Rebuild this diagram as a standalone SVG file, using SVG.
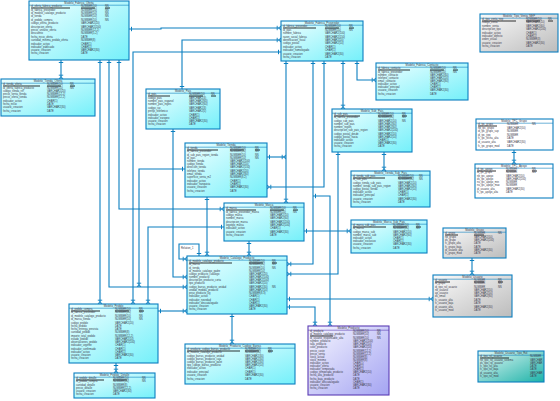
<svg xmlns="http://www.w3.org/2000/svg" width="560" height="401" viewBox="0 0 560 401">
<defs>
<linearGradient id="gc" x1="0" y1="0" x2="1" y2="1"><stop offset="0" stop-color="#f0ffff"/><stop offset="1" stop-color="#74f0fa"/></linearGradient>
<linearGradient id="gg" x1="0" y1="0" x2="1" y2="1"><stop offset="0" stop-color="#fafafa"/><stop offset="1" stop-color="#bcbcbc"/></linearGradient>
<linearGradient id="gp" x1="0" y1="0" x2="1" y2="1"><stop offset="0" stop-color="#f6f6ff"/><stop offset="1" stop-color="#a4a4f2"/></linearGradient>
<linearGradient id="gt" x1="0" y1="0" x2="1" y2="1"><stop offset="0" stop-color="#e6f8f5"/><stop offset="1" stop-color="#1cb2a8"/></linearGradient>
<marker id="one" markerUnits="userSpaceOnUse" markerWidth="6" markerHeight="6" refX="5" refY="3" orient="auto-start-reverse"><path d="M2.5,0.8V5.2" stroke="#0b7fc0" stroke-width="1" fill="none"/></marker>
<marker id="many" markerUnits="userSpaceOnUse" markerWidth="6" markerHeight="6" refX="5" refY="3" orient="auto"><path d="M1.2,0.8V5.2M2.5,3L5,1M2.5,3L5,5" stroke="#0b7fc0" stroke-width="0.9" fill="none"/></marker>
<style>
.b{stroke:#0b7fc0;stroke-width:1.1}
.c{fill:url(#gc)}.g{fill:url(#gg)}.p{fill:url(#gp);stroke:#5b3cb4}.t{fill:url(#gt)}.w{fill:#fff}
.s{stroke:#0b7fc0;stroke-width:0.6}
.sp{stroke:#5b3cb4;stroke-width:0.6}
text{font-family:"Liberation Sans",Arial,sans-serif;fill:#3a3a4a}
.h{font-size:2.8px;text-anchor:middle}
.r{font-size:2.6px}
.u{stroke:#000;stroke-width:0.8}
.cn path{fill:none;stroke:#0b7fc0;stroke-width:1.1;marker-start:url(#one);marker-end:url(#many)}
</style>
</defs>

<g class="cn" id="connectors">
<path d="M129,29H161V28H281"/>
<path d="M182,89V40H281"/>
<path d="M281,52H133V304"/>
<path d="M61,60V79"/>
<path d="M100,60V304"/>
<path d="M109,60V287H187"/>
<path d="M119,60V209H224"/>
<path d="M185,169H139V287"/>
<path d="M224,227H148V304"/>
<path d="M173,129V277H187"/>
<path d="M207,197V256"/>
<path d="M249,241V256"/>
<path d="M199,256V244H179V259H187"/>
<path d="M158,311H187"/>
<path d="M116,363V373"/>
<path d="M232,314V344"/>
<path d="M286,61V203"/>
<path d="M267,157H286"/>
<path d="M313,61V264H287"/>
<path d="M324,61V187H267"/>
<path d="M343,61V109"/>
<path d="M357,61V80H376"/>
<path d="M338,152V274H287"/>
<path d="M384,152V171"/>
<path d="M304,231H351"/>
<path d="M287,299H433"/>
<path d="M287,307H315V326"/>
<path d="M313,196H330V326"/>
<path d="M514,150V164"/>
<path d="M472,258V275"/>
</g>
<text class="r" x="181" y="249">Relation_1</text>

<g id="t1">
<rect class="b c" x="29" y="1" width="100" height="59"/><line class="s" x1="29" y1="5.2" x2="129" y2="5.2"/>
<text class="h" x="79" y="4.1">Modelo_Fabrica_Oferta</text>
<text class="r" x="31" y="7.3">id_oferta_fabrica_producto</text><text class="r" x="81" y="7.3">NUMBER(10)</text><text class="r" x="105" y="7.3">NN</text>
<line class="u" x1="31" y1="8" x2="70" y2="8"/><line class="u" x1="81" y1="8" x2="95" y2="8"/><line class="u" x1="105" y1="8" x2="110" y2="8"/>
<text class="r" x="31" y="11">id_fabrica_proveedor</text><text class="r" x="81" y="11">NUMBER(10)</text><text class="r" x="105" y="11">NN</text>
<text class="r" x="31" y="14.1">id_modelo_catalogo_producto</text><text class="r" x="81" y="14.1">NUMBER(10)</text><text class="r" x="105" y="14.1">NN</text>
<text class="r" x="31" y="17.2">id_tienda</text><text class="r" x="81" y="17.2">NUMBER(10)</text><text class="r" x="105" y="17.2">NN</text>
<text class="r" x="31" y="21">id_pedido_compra</text><text class="r" x="81" y="21">NUMBER(10)</text><text class="r" x="105" y="21">NN</text>
<text class="r" x="31" y="24.1">codigo_oferta_producto</text><text class="r" x="81" y="24.1">VARCHAR2(20)</text>
<text class="r" x="31" y="28">descripcion_oferta</text><text class="r" x="81" y="28">VARCHAR2(200)</text>
<text class="r" x="31" y="31.1">precio_unitario_oferta</text><text class="r" x="81" y="31.1">NUMBER(12,2)</text>
<text class="r" x="31" y="34.2">descuento</text><text class="r" x="81" y="34.2">NUMBER(5,2)</text>
<text class="r" x="31" y="38">fecha_inicio_oferta</text><text class="r" x="81" y="38">DATE</text>
<text class="r" x="31" y="41.1">cantidad_minima_pedido_oferta</text><text class="r" x="81" y="41.1">NUMBER(8)</text>
<text class="r" x="31" y="45">indicador_activo</text><text class="r" x="81" y="45">CHAR(1)</text>
<text class="r" x="31" y="48.1">indicador_publicado</text><text class="r" x="81" y="48.1">CHAR(1)</text>
<text class="r" x="31" y="51.2">usuario_creacion</text><text class="r" x="81" y="51.2">VARCHAR2(30)</text>
<text class="r" x="31" y="54.3">fecha_creacion</text><text class="r" x="81" y="54.3">DATE</text>
</g>

<g id="t2">
<rect class="b c" x="1" y="79" width="94" height="37"/><line class="s" x1="1" y1="83.2" x2="95" y2="83.2"/>
<text class="h" x="48" y="82.1">Modelo_Tienda_Oferta</text>
<text class="r" x="3" y="85.3">id_tienda_oferta</text><text class="r" x="47" y="85.3">NUMBER(10)</text><text class="r" x="70" y="85.3">NN</text>
<line class="u" x1="3" y1="86" x2="40" y2="86"/><line class="u" x1="47" y1="86" x2="61" y2="86"/><line class="u" x1="70" y1="86" x2="75" y2="86"/>
<text class="r" x="3" y="89">id_oferta_fabrica_producto</text><text class="r" x="47" y="89">NUMBER(10)</text><text class="r" x="70" y="89">NN</text>
<text class="r" x="3" y="92.1">codigo_tienda_ref</text><text class="r" x="47" y="92.1">VARCHAR2(20)</text>
<text class="r" x="3" y="95.2">precio_venta_tienda</text><text class="r" x="47" y="95.2">NUMBER(12,2)</text>
<text class="r" x="3" y="98.3">precio_oferta_tienda</text><text class="r" x="47" y="98.3">NUMBER(12,2)</text>
<text class="r" x="3" y="101.9">indicador_activo</text><text class="r" x="47" y="101.9">CHAR(1)</text>
<text class="r" x="3" y="105">fecha_inicio</text><text class="r" x="47" y="105">DATE</text>
<text class="r" x="3" y="108.1">usuario_creacion</text><text class="r" x="47" y="108.1">VARCHAR2(30)</text>
<text class="r" x="3" y="111.7">fecha_creacion</text><text class="r" x="47" y="111.7">DATE</text>
</g>

<g id="t3">
<rect class="b c" x="146" y="89" width="74" height="40"/><line class="s" x1="146" y1="93.2" x2="220" y2="93.2"/>
<text class="h" x="183" y="92.1">Modelo_Pais</text>
<text class="r" x="148" y="95.3">id_pais</text><text class="r" x="189" y="95.3">NUMBER(10)</text><text class="r" x="211" y="95.3">NN</text>
<line class="u" x1="148" y1="96" x2="170" y2="96"/><line class="u" x1="189" y1="96" x2="203" y2="96"/><line class="u" x1="211" y1="96" x2="216" y2="96"/>
<text class="r" x="148" y="99">codigo_pais</text><text class="r" x="189" y="99">VARCHAR2(3)</text>
<text class="r" x="148" y="102.1">nombre_pais_espanol</text><text class="r" x="189" y="102.1">VARCHAR2(60)</text>
<text class="r" x="148" y="105.2">nombre_pais_ingles</text><text class="r" x="189" y="105.2">VARCHAR2(60)</text>
<text class="r" x="148" y="108.8">codigo_iso</text><text class="r" x="189" y="108.8">VARCHAR2(3)</text>
<text class="r" x="148" y="111.9">prefijo_telefonico</text><text class="r" x="189" y="111.9">VARCHAR2(5)</text>
<text class="r" x="148" y="115.5">indicador_activo</text><text class="r" x="189" y="115.5">CHAR(1)</text>
<text class="r" x="148" y="118.6">indicador_europeo</text><text class="r" x="189" y="118.6">CHAR(1)</text>
<text class="r" x="148" y="121.7">usuario_creacion</text><text class="r" x="189" y="121.7">VARCHAR2(30)</text>
<text class="r" x="148" y="125">fecha_creacion</text><text class="r" x="189" y="125">DATE</text>
</g>

<g id="t4">
<rect class="b c" x="281" y="21" width="82" height="40"/><line class="s" x1="281" y1="25.2" x2="363" y2="25.2"/>
<text class="h" x="322" y="24.1">Modelo_Fabrica_Proveedor</text>
<text class="r" x="283" y="27.3">id_fabrica_proveedor</text><text class="r" x="325" y="27.3">NUMBER(10)</text><text class="r" x="349" y="27.3">NN</text>
<line class="u" x1="283" y1="28" x2="316" y2="28"/><line class="u" x1="325" y1="28" x2="339" y2="28"/><line class="u" x1="349" y1="28" x2="354" y2="28"/>
<text class="r" x="283" y="31">id_pais</text><text class="r" x="325" y="31">NUMBER(10)</text><text class="r" x="349" y="31">NN</text>
<text class="r" x="283" y="34.1">nombre_fabrica</text><text class="r" x="325" y="34.1">VARCHAR2(100)</text>
<text class="r" x="283" y="38">razon_social_fabrica</text><text class="r" x="325" y="38">VARCHAR2(150)</text>
<text class="r" x="283" y="41.1">identificacion_fiscal</text><text class="r" x="325" y="41.1">VARCHAR2(20)</text>
<text class="r" x="283" y="44.2">codigo_postal</text><text class="r" x="325" y="44.2">VARCHAR2(10)</text>
<text class="r" x="283" y="48">indicador_activo</text><text class="r" x="325" y="48">CHAR(1)</text>
<text class="r" x="283" y="51.1">indicador_homologado</text><text class="r" x="325" y="51.1">CHAR(1)</text>
<text class="r" x="283" y="55">usuario_creacion</text><text class="r" x="325" y="55">VARCHAR2(30)</text>
<text class="r" x="283" y="58.1">fecha_creacion</text><text class="r" x="325" y="58.1">DATE</text>
</g>

<g id="t5">
<rect class="b c" x="376" y="63" width="92" height="37"/><line class="s" x1="376" y1="67.2" x2="468" y2="67.2"/>
<text class="h" x="422" y="66.1">Modelo_Fabrica_Contacto</text>
<text class="r" x="378" y="69.3">id_fabrica_contacto</text><text class="r" x="430" y="69.3">NUMBER(10)</text><text class="r" x="453" y="69.3">NN</text>
<line class="u" x1="378" y1="70" x2="410" y2="70"/><line class="u" x1="430" y1="70" x2="444" y2="70"/><line class="u" x1="453" y1="70" x2="458" y2="70"/>
<text class="r" x="378" y="72.8">id_fabrica_proveedor</text><text class="r" x="430" y="72.8">NUMBER(10)</text><text class="r" x="453" y="72.8">NN</text>
<text class="r" x="378" y="75.8">nombre_contacto</text><text class="r" x="430" y="75.8">VARCHAR2(60)</text>
<text class="r" x="378" y="78.8">telefono_contacto</text><text class="r" x="430" y="78.8">VARCHAR2(20)</text>
<text class="r" x="378" y="81.8">email_contacto</text><text class="r" x="430" y="81.8">VARCHAR2(80)</text>
<text class="r" x="378" y="85.4">indicador_activo</text><text class="r" x="430" y="85.4">CHAR(1)</text>
<text class="r" x="378" y="88.4">indicador_principal</text><text class="r" x="430" y="88.4">CHAR(1)</text>
<text class="r" x="378" y="91.4">usuario_creacion</text><text class="r" x="430" y="91.4">VARCHAR2(30)</text>
<text class="r" x="378" y="95">fecha_creacion</text><text class="r" x="430" y="95">DATE</text>
</g>

<g id="t6">
<rect class="b c" x="332" y="109" width="80" height="43"/><line class="s" x1="332" y1="113.2" x2="412" y2="113.2"/>
<text class="h" x="372" y="112.1">Modelo_Sub_Pais</text>
<text class="r" x="334" y="115.3">id_sub_pais</text><text class="r" x="378" y="115.3">NUMBER(10)</text><text class="r" x="402" y="115.3">NN</text>
<line class="u" x1="334" y1="116" x2="360" y2="116"/><line class="u" x1="378" y1="116" x2="392" y2="116"/><line class="u" x1="402" y1="116" x2="407" y2="116"/>
<text class="r" x="334" y="118.4">id_fabrica_proveedor</text><text class="r" x="378" y="118.4">NUMBER(10)</text><text class="r" x="402" y="118.4">NN</text>
<text class="r" x="334" y="122">codigo_sub_pais</text><text class="r" x="378" y="122">VARCHAR2(10)</text><text class="r" x="402" y="122">NN</text>
<text class="r" x="334" y="125.1">nombre_sub_pais</text><text class="r" x="378" y="125.1">VARCHAR2(60)</text>
<text class="r" x="334" y="128.2">nombre_region</text><text class="r" x="378" y="128.2">VARCHAR2(60)</text>
<text class="r" x="334" y="131.3">descripcion_sub_pais_region</text><text class="r" x="378" y="131.3">VARCHAR2(200)</text>
<text class="r" x="334" y="135">codigo_postal_desde</text><text class="r" x="378" y="135">VARCHAR2(10)</text>
<text class="r" x="334" y="138.1">codigo_postal_hasta</text><text class="r" x="378" y="138.1">VARCHAR2(10)</text>
<text class="r" x="334" y="141.2">indicador_activo</text><text class="r" x="378" y="141.2">CHAR(1)</text>
<text class="r" x="334" y="144.3">usuario_creacion</text><text class="r" x="378" y="144.3">VARCHAR2(30)</text>
<text class="r" x="334" y="147.4">fecha_creacion</text><text class="r" x="378" y="147.4">DATE</text>
</g>

<g id="t7">
<rect class="b g" x="480" y="14" width="78" height="38"/><line class="s" x1="480" y1="18.2" x2="558" y2="18.2"/>
<text class="h" x="519" y="17.1">Modelo_Tipo_Venta_NEP</text>
<text class="r" x="482" y="20.3">id_tipo_venta_nep</text><text class="r" x="526" y="20.3">NUMBER(10)</text><text class="r" x="548" y="20.3">NN</text>
<line class="u" x1="482" y1="21" x2="516" y2="21"/><line class="u" x1="526" y1="21" x2="540" y2="21"/><line class="u" x1="548" y1="21" x2="553" y2="21"/>
<text class="r" x="482" y="23.4">codigo_venta</text><text class="r" x="526" y="23.4">VARCHAR2(10)</text>
<text class="r" x="482" y="27">nombre_venta</text><text class="r" x="526" y="27">VARCHAR2(60)</text>
<text class="r" x="482" y="30.1">descripcion_tipo</text><text class="r" x="526" y="30.1">VARCHAR2(200)</text>
<text class="r" x="482" y="34">indicador_activo</text><text class="r" x="526" y="34">CHAR(1)</text>
<text class="r" x="482" y="37.1">indicador_defecto</text><text class="r" x="526" y="37.1">CHAR(1)</text>
<text class="r" x="482" y="40.2">orden_visual</text><text class="r" x="526" y="40.2">NUMBER(3)</text>
<text class="r" x="482" y="44">usuario_creacion</text><text class="r" x="526" y="44">VARCHAR2(30)</text>
<text class="r" x="482" y="47.1">fecha_creacion</text><text class="r" x="526" y="47.1">DATE</text>
</g>

<g id="t8">
<rect class="b w" x="476" y="119" width="77" height="31"/><line class="s" x1="476" y1="123.2" x2="553" y2="123.2"/>
<text class="h" x="514" y="122.1">Modelo_TPC_Grupo</text>
<text class="r" x="478" y="125.3">id_tpc_grupo</text><text class="r" x="507" y="125.3">NUMBER</text><text class="r" x="532" y="125.3">NN</text>
<line class="u" x1="478" y1="126" x2="497" y2="126"/>
<text class="r" x="478" y="128.5">nb_tpc_grupo</text><text class="r" x="507" y="128.5">VARCHAR2(50)</text>
<text class="r" x="478" y="132">id_tpc_grupo_sup</text><text class="r" x="507" y="132">NUMBER</text>
<text class="r" x="478" y="135.5">id_tpc_tipo</text><text class="r" x="507" y="135.5">NUMBER</text>
<text class="r" x="478" y="139">fc_tpc_fecha_alta</text><text class="r" x="507" y="139">DATE</text>
<text class="r" x="478" y="143">id_usuario_alta</text><text class="r" x="507" y="143">VARCHAR2(30)</text>
<text class="r" x="478" y="146.5">fc_tpc_grupo_mod</text><text class="r" x="507" y="146.5">DATE</text>
</g>

<g id="t9">
<rect class="b w" x="475" y="164" width="78" height="34"/><line class="s" x1="475" y1="168.2" x2="553" y2="168.2"/>
<text class="h" x="514" y="167.1">Modelo_TPC_Apoyo</text>
<text class="r" x="477" y="170.3">id_tpc_apoyo</text><text class="r" x="506" y="170.3">NUMBER</text><text class="r" x="532" y="170.3">NN</text>
<line class="u" x1="477" y1="171" x2="496" y2="171"/><line class="u" x1="506" y1="171" x2="516" y2="171"/><line class="u" x1="532" y1="171" x2="537" y2="171"/>
<text class="r" x="477" y="173.4">id_tpc_grupo</text><text class="r" x="506" y="173.4">NUMBER</text><text class="r" x="532" y="173.4">NN</text>
<text class="r" x="477" y="176.6">nb_tpc_apoyo</text><text class="r" x="506" y="176.6">VARCHAR2(50)</text>
<text class="r" x="477" y="180.2">ds_tpc_apoyo</text><text class="r" x="506" y="180.2">VARCHAR2(200)</text>
<text class="r" x="477" y="183.3">nu_tpc_apoyo_min</text><text class="r" x="506" y="183.3">NUMBER</text>
<text class="r" x="477" y="186.4">nu_tpc_apoyo_max</text><text class="r" x="506" y="186.4">NUMBER</text>
<text class="r" x="477" y="190">id_usuario_alta</text><text class="r" x="506" y="190">VARCHAR2(30)</text>
<text class="r" x="477" y="193.2">fc_tpc_apoyo_alta</text><text class="r" x="506" y="193.2">DATE</text>
</g>

<g id="t10">
<rect class="b g" x="443" y="228" width="63" height="30"/><line class="s" x1="443" y1="232.2" x2="506" y2="232.2"/>
<text class="h" x="474.5" y="231.1">Modelo_Grupo</text>
<text class="r" x="445" y="234.3">id_grupo</text><text class="r" x="474" y="234.3">NUMBER</text><text class="r" x="498" y="234.3">NN</text>
<line class="u" x1="445" y1="235" x2="458" y2="235"/><line class="u" x1="474" y1="235" x2="484" y2="235"/>
<text class="r" x="445" y="237.8">nb_grupo</text><text class="r" x="474" y="237.8">VARCHAR2(50)</text>
<text class="r" x="445" y="240.9">ds_grupo</text><text class="r" x="474" y="240.9">VARCHAR2(200)</text>
<text class="r" x="445" y="244.4">fc_grupo_alta</text><text class="r" x="474" y="244.4">DATE</text>
<text class="r" x="445" y="247.5">fc_grupo_baja</text><text class="r" x="474" y="247.5">DATE</text>
<text class="r" x="445" y="251">id_usuario_alta</text><text class="r" x="474" y="251">VARCHAR2(30)</text>
<text class="r" x="445" y="254.1">fc_grupo_mod</text><text class="r" x="474" y="254.1">DATE</text>
</g>

<g id="t11">
<rect class="b g" x="433" y="275" width="79" height="42"/><line class="s" x1="433" y1="279.2" x2="512" y2="279.2"/>
<text class="h" x="472.5" y="278.1">Modelo_Usuario</text>
<text class="r" x="435" y="281.3">id_usuario</text><text class="r" x="474" y="281.3">NUMBER</text><text class="r" x="498" y="281.3">NN</text>
<line class="u" x1="435" y1="282" x2="450" y2="282"/><line class="u" x1="474" y1="282" x2="484" y2="282"/><line class="u" x1="498" y1="282" x2="503" y2="282"/>
<text class="r" x="435" y="284.4">id_grupo</text><text class="r" x="474" y="284.4">NUMBER</text><text class="r" x="498" y="284.4">NN</text>
<text class="r" x="435" y="287.5">id_tipo_rol_usuario</text><text class="r" x="474" y="287.5">NUMBER</text><text class="r" x="498" y="287.5">NN</text>
<text class="r" x="435" y="291">nb_usuario</text><text class="r" x="474" y="291">VARCHAR2(50)</text>
<text class="r" x="435" y="294.1">ap_usuario</text><text class="r" x="474" y="294.1">VARCHAR2(50)</text>
<text class="r" x="435" y="297.2">ds_email</text><text class="r" x="474" y="297.2">VARCHAR2(80)</text>
<text class="r" x="435" y="301">fc_usuario_alta</text><text class="r" x="474" y="301">DATE</text>
<text class="r" x="435" y="304.1">fc_usuario_baja</text><text class="r" x="474" y="304.1">DATE</text>
<text class="r" x="435" y="307.8">id_usuario_alta</text><text class="r" x="474" y="307.8">VARCHAR2(30)</text>
<text class="r" x="435" y="311">fc_usuario_mod</text><text class="r" x="474" y="311">DATE</text>
</g>

<g id="t12">
<rect class="b t" x="478" y="351" width="66" height="31"/><line class="s" x1="478" y1="355.2" x2="544" y2="355.2"/>
<text class="h" x="511" y="354.1">Modelo_Usuario_Tipo_Rol</text>
<text class="r" x="480" y="357.3">id_tipo_rol_usuario</text><text class="r" x="530" y="357.3">NUMBER</text>
<line class="u" x1="480" y1="358" x2="509" y2="358"/>
<text class="r" x="480" y="360.8">nb_tipo_rol_usuario_sistema</text><text class="r" x="530" y="360.8">VARCHAR</text>
<text class="r" x="480" y="363.9">ds_tipo_rol_usuario</text><text class="r" x="530" y="363.9">VARCHAR</text>
<text class="r" x="480" y="367.3">fc_tipo_rol_alta</text><text class="r" x="530" y="367.3">DATE</text>
<text class="r" x="480" y="370.4">fc_tipo_rol_baja</text><text class="r" x="530" y="370.4">DATE</text>
<text class="r" x="480" y="374">id_usuario_alta</text><text class="r" x="530" y="374">VARCHAR</text>
<text class="r" x="480" y="377.1">fc_tipo_rol_mod</text><text class="r" x="530" y="377.1">DATE</text>
</g>

<g id="t13">
<rect class="b c" x="185" y="143" width="82" height="54"/><line class="s" x1="185" y1="147.2" x2="267" y2="147.2"/>
<text class="h" x="226" y="146.1">Modelo_Tienda</text>
<text class="r" x="187" y="149.3">id_tienda</text><text class="r" x="230" y="149.3">NUMBER(10)</text><text class="r" x="255" y="149.3">NN</text>
<line class="u" x1="187" y1="150" x2="218" y2="150"/><line class="u" x1="230" y1="150" x2="244" y2="150"/><line class="u" x1="255" y1="150" x2="260" y2="150"/>
<text class="r" x="187" y="152.4">id_fabrica_proveedor</text><text class="r" x="230" y="152.4">NUMBER(10)</text><text class="r" x="255" y="152.4">NN</text>
<text class="r" x="187" y="155.5">id_sub_pais_region_tienda</text><text class="r" x="230" y="155.5">NUMBER(10)</text><text class="r" x="255" y="155.5">NN</text>
<text class="r" x="187" y="158.6">id_pais</text><text class="r" x="230" y="158.6">NUMBER(10)</text><text class="r" x="255" y="158.6">NN</text>
<text class="r" x="187" y="162.2">nombre_tienda</text><text class="r" x="230" y="162.2">VARCHAR2(100)</text>
<text class="r" x="187" y="165.3">codigo_tienda</text><text class="r" x="230" y="165.3">VARCHAR2(20)</text>
<text class="r" x="187" y="168.4">direccion_tienda</text><text class="r" x="230" y="168.4">VARCHAR2(150)</text>
<text class="r" x="187" y="172">telefono_tienda</text><text class="r" x="230" y="172">VARCHAR2(20)</text>
<text class="r" x="187" y="175.1">email_tienda</text><text class="r" x="230" y="175.1">VARCHAR2(80)</text>
<text class="r" x="187" y="178.2">superficie_venta_m2</text><text class="r" x="230" y="178.2">NUMBER(8,2)</text>
<text class="r" x="187" y="182">indicador_activo</text><text class="r" x="230" y="182">CHAR(1)</text>
<text class="r" x="187" y="185.1">indicador_franquicia</text><text class="r" x="230" y="185.1">CHAR(1)</text>
<text class="r" x="187" y="188.2">usuario_creacion</text><text class="r" x="230" y="188.2">VARCHAR2(30)</text>
<text class="r" x="187" y="191.8">fecha_creacion</text><text class="r" x="230" y="191.8">DATE</text>
</g>

<g id="t14">
<rect class="b c" x="224" y="203" width="80" height="38"/><line class="s" x1="224" y1="207.2" x2="304" y2="207.2"/>
<text class="h" x="264" y="206.1">Modelo_Marca</text>
<text class="r" x="226" y="209.3">id_marca</text><text class="r" x="270" y="209.3">NUMBER(10)</text><text class="r" x="293" y="209.3">NN</text>
<line class="u" x1="226" y1="210" x2="256" y2="210"/><line class="u" x1="270" y1="210" x2="284" y2="210"/><line class="u" x1="293" y1="210" x2="298" y2="210"/>
<text class="r" x="226" y="212.9">id_fabrica_proveedor_marca</text><text class="r" x="270" y="212.9">NUMBER(10)</text><text class="r" x="293" y="212.9">NN</text>
<text class="r" x="226" y="216">codigo_marca</text><text class="r" x="270" y="216">VARCHAR2(10)</text>
<text class="r" x="226" y="219.1">nombre_marca</text><text class="r" x="270" y="219.1">VARCHAR2(60)</text>
<text class="r" x="226" y="222.7">descripcion_marca</text><text class="r" x="270" y="222.7">VARCHAR2(200)</text>
<text class="r" x="226" y="225.8">logotipo_marca</text><text class="r" x="270" y="225.8">VARCHAR2(100)</text>
<text class="r" x="226" y="228.9">indicador_activo</text><text class="r" x="270" y="228.9">CHAR(1)</text>
<text class="r" x="226" y="232.5">usuario_creacion</text><text class="r" x="270" y="232.5">VARCHAR2(30)</text>
<text class="r" x="226" y="235.6">fecha_creacion</text><text class="r" x="270" y="235.6">DATE</text>
</g>

<g id="t16">
<rect class="b c" x="187" y="256" width="100" height="58"/><line class="s" x1="187" y1="260.2" x2="287" y2="260.2"/>
<text class="h" x="237" y="259.1">Modelo_Catalogo_Producto</text>
<text class="r" x="189" y="262.3">id_modelo_catalogo_producto</text><text class="r" x="249" y="262.3">NUMBER(10)</text><text class="r" x="272" y="262.3">NN</text>
<line class="u" x1="189" y1="263" x2="232" y2="263"/><line class="u" x1="249" y1="263" x2="263" y2="263"/><line class="u" x1="272" y1="263" x2="277" y2="263"/>
<text class="r" x="189" y="265.4">id_marca</text><text class="r" x="249" y="265.4">NUMBER(10)</text><text class="r" x="272" y="265.4">NN</text>
<text class="r" x="189" y="268.5">id_tienda</text><text class="r" x="249" y="268.5">NUMBER(10)</text><text class="r" x="272" y="268.5">NN</text>
<text class="r" x="189" y="272">id_modelo_catalogo_padre</text><text class="r" x="249" y="272">NUMBER(10)</text>
<text class="r" x="189" y="275.1">codigo_producto_catalogo</text><text class="r" x="249" y="275.1">VARCHAR2(20)</text>
<text class="r" x="189" y="278.2">nombre_producto</text><text class="r" x="249" y="278.2">VARCHAR2(100)</text>
<text class="r" x="189" y="281.3">descripcion_producto_corta</text><text class="r" x="249" y="281.3">VARCHAR2(200)</text>
<text class="r" x="189" y="284.4">tipo_producto</text><text class="r" x="249" y="284.4">VARCHAR2(20)</text>
<text class="r" x="189" y="288">codigo_barras_producto_unidad</text><text class="r" x="249" y="288">VARCHAR2(30)</text><text class="r" x="272" y="288">NN</text>
<text class="r" x="189" y="291.1">unidad_medida_producto</text><text class="r" x="249" y="291.1">VARCHAR2(10)</text>
<text class="r" x="189" y="294.2">peso_producto_kg</text><text class="r" x="249" y="294.2">NUMBER(8,3)</text>
<text class="r" x="189" y="297.3">indicador_activo</text><text class="r" x="249" y="297.3">CHAR(1)</text>
<text class="r" x="189" y="300.9">indicador_novedad</text><text class="r" x="249" y="300.9">CHAR(1)</text>
<text class="r" x="189" y="304">indicador_descatalogado</text><text class="r" x="249" y="304">CHAR(1)</text>
<text class="r" x="189" y="307.1">usuario_creacion</text><text class="r" x="249" y="307.1">VARCHAR2(30)</text>
<text class="r" x="189" y="310.2">fecha_creacion</text><text class="r" x="249" y="310.2">DATE</text>
</g>

<g id="t17">
<rect class="b c" x="351" y="171" width="79" height="36"/><line class="s" x1="351" y1="175.2" x2="430" y2="175.2"/>
<text class="h" x="390.5" y="174.1">Modelo_Tienda_Sub_Pais</text>
<text class="r" x="353" y="177.3">id_tienda_sub_pais</text><text class="r" x="398" y="177.3">NUMBER(10)</text><text class="r" x="419" y="177.3">NN</text>
<line class="u" x1="353" y1="178" x2="385" y2="178"/><line class="u" x1="398" y1="178" x2="412" y2="178"/>
<text class="r" x="353" y="180.4">id_sub_pais</text><text class="r" x="398" y="180.4">NUMBER(10)</text><text class="r" x="419" y="180.4">NN</text>
<text class="r" x="353" y="183.5">codigo_tienda_sub_pais</text><text class="r" x="398" y="183.5">VARCHAR2(10)</text>
<text class="r" x="353" y="186.6">nombre_tienda_sub_pais_region</text><text class="r" x="398" y="186.6">VARCHAR2(60)</text>
<text class="r" x="353" y="189.7">codigo_postal_tienda</text><text class="r" x="398" y="189.7">VARCHAR2(10)</text>
<text class="r" x="353" y="193.3">indicador_activo</text><text class="r" x="398" y="193.3">CHAR(1)</text>
<text class="r" x="353" y="196.4">indicador_principal</text><text class="r" x="398" y="196.4">CHAR(1)</text>
<text class="r" x="353" y="199.5">usuario_creacion</text><text class="r" x="398" y="199.5">VARCHAR2(30)</text>
<text class="r" x="353" y="202.6">fecha_creacion</text><text class="r" x="398" y="202.6">DATE</text>
</g>

<g id="t18">
<rect class="b c" x="351" y="220" width="76" height="33"/><line class="s" x1="351" y1="224.2" x2="427" y2="224.2"/>
<text class="h" x="389" y="223.1">Modelo_Marca_Sub_Pais</text>
<text class="r" x="353" y="226.3">id_marca_sub_pais</text><text class="r" x="393" y="226.3">NUMBER(10)</text><text class="r" x="416" y="226.3">NN</text>
<line class="u" x1="353" y1="227" x2="386" y2="227"/><line class="u" x1="393" y1="227" x2="407" y2="227"/><line class="u" x1="416" y1="227" x2="421" y2="227"/>
<text class="r" x="353" y="229.4">id_marca</text><text class="r" x="393" y="229.4">NUMBER(10)</text><text class="r" x="416" y="229.4">NN</text>
<text class="r" x="353" y="232.5">codigo_marca_sub</text><text class="r" x="393" y="232.5">VARCHAR2(10)</text>
<text class="r" x="353" y="235.6">nombre_marca_sub</text><text class="r" x="393" y="235.6">VARCHAR2(60)</text>
<text class="r" x="353" y="238.7">indicador_activo</text><text class="r" x="393" y="238.7">CHAR(1)</text>
<text class="r" x="353" y="242.3">indicador_exclusivo</text><text class="r" x="393" y="242.3">CHAR(1)</text>
<text class="r" x="353" y="245.4">usuario_creacion</text><text class="r" x="393" y="245.4">VARCHAR2(30)</text>
<text class="r" x="353" y="248.5">fecha_creacion</text><text class="r" x="393" y="248.5">DATE</text>
</g>

<g id="t19">
<rect class="b c" x="69" y="304" width="89" height="59"/><line class="s" x1="69" y1="308.2" x2="158" y2="308.2"/>
<text class="h" x="113.5" y="307.1">Modelo_Pedido</text>
<text class="r" x="71" y="310.3">id_pedido_compra</text><text class="r" x="115" y="310.3">NUMBER(10)</text><text class="r" x="139" y="310.3">NN</text>
<line class="u" x1="71" y1="311" x2="100" y2="311"/><line class="u" x1="115" y1="311" x2="129" y2="311"/><line class="u" x1="139" y1="311" x2="144" y2="311"/>
<text class="r" x="71" y="313.4">id_fabrica_proveedor</text><text class="r" x="115" y="313.4">NUMBER(10)</text><text class="r" x="139" y="313.4">NN</text>
<text class="r" x="71" y="317">id_modelo_catalogo_producto</text><text class="r" x="115" y="317">NUMBER(10)</text><text class="r" x="139" y="317">NN</text>
<text class="r" x="71" y="320.1">id_marca_tienda</text><text class="r" x="115" y="320.1">NUMBER(10)</text><text class="r" x="139" y="320.1">NN</text>
<text class="r" x="71" y="323.7">codigo_pedido</text><text class="r" x="115" y="323.7">VARCHAR2(20)</text>
<text class="r" x="71" y="326.8">fecha_pedido</text><text class="r" x="115" y="326.8">DATE</text>
<text class="r" x="71" y="329.9">fecha_entrega_prevista</text><text class="r" x="115" y="329.9">DATE</text>
<text class="r" x="71" y="333">cantidad_pedido</text><text class="r" x="115" y="333">NUMBER(8)</text>
<text class="r" x="71" y="336.6">importe_total_pedido</text><text class="r" x="115" y="336.6">NUMBER(12,2)</text>
<text class="r" x="71" y="339.7">estado_pedido</text><text class="r" x="115" y="339.7">VARCHAR2(10)</text>
<text class="r" x="71" y="342.8">observaciones_pedido</text><text class="r" x="115" y="342.8">VARCHAR2(200)</text>
<text class="r" x="71" y="345.9">indicador_urgente</text><text class="r" x="115" y="345.9">CHAR(1)</text>
<text class="r" x="71" y="349.5">indicador_confirmado</text><text class="r" x="115" y="349.5">CHAR(1)</text>
<text class="r" x="71" y="352.6">indicador_activo</text><text class="r" x="115" y="352.6">CHAR(1)</text>
<text class="r" x="71" y="355.7">usuario_creacion</text><text class="r" x="115" y="355.7">VARCHAR2(30)</text>
<text class="r" x="71" y="358.8">fecha_creacion</text><text class="r" x="115" y="358.8">DATE</text>
</g>

<g id="t20">
<rect class="b c" x="74" y="373" width="81" height="25"/><line class="s" x1="74" y1="377.2" x2="155" y2="377.2"/>
<text class="h" x="114.5" y="376.1">Modelo_Pedido_Detalle</text>
<text class="r" x="76" y="379.3">id_pedido_detalle</text><text class="r" x="113" y="379.3">NUMBER(10)</text><text class="r" x="142" y="379.3">NN</text>
<line class="u" x1="76" y1="380" x2="104" y2="380"/><line class="u" x1="113" y1="380" x2="127" y2="380"/>
<text class="r" x="76" y="382.4">id_pedido_compra</text><text class="r" x="113" y="382.4">NUMBER(10)</text><text class="r" x="142" y="382.4">NN</text>
<text class="r" x="76" y="385.5">cantidad_detalle</text><text class="r" x="113" y="385.5">NUMBER(8)</text>
<text class="r" x="76" y="388.6">precio_detalle</text><text class="r" x="113" y="388.6">NUMBER(12,2)</text>
<text class="r" x="76" y="391.7">usuario_creacion</text><text class="r" x="113" y="391.7">VARCHAR2(30)</text>
<text class="r" x="76" y="394.8">fecha_creacion</text><text class="r" x="113" y="394.8">DATE</text>
</g>

<g id="t21">
<rect class="b c" x="185" y="344" width="110" height="40"/><line class="s" x1="185" y1="348.2" x2="295" y2="348.2"/>
<text class="h" x="240" y="347.1">Modelo_Producto_Codigo_Barras</text>
<text class="r" x="187" y="350.3">id_producto_codigo_barras_producto</text><text class="r" x="245" y="350.3">NUMBER(10)</text><text class="r" x="268" y="350.3">NN</text>
<line class="u" x1="187" y1="351" x2="240" y2="351"/><line class="u" x1="245" y1="351" x2="259" y2="351"/><line class="u" x1="268" y1="351" x2="273" y2="351"/>
<text class="r" x="187" y="353.4">id_modelo_catalogo_producto</text><text class="r" x="245" y="353.4">NUMBER(10)</text><text class="r" x="268" y="353.4">NN</text>
<text class="r" x="187" y="356.5">codigo_barras_producto_unidad</text><text class="r" x="245" y="356.5">VARCHAR2(30)</text>
<text class="r" x="187" y="360">codigo_barras_producto_caja</text><text class="r" x="245" y="360">VARCHAR2(30)</text>
<text class="r" x="187" y="363.1">codigo_barras_producto_palet</text><text class="r" x="245" y="363.1">VARCHAR2(30)</text>
<text class="r" x="187" y="366.2">tipo_codigo_barras_producto</text><text class="r" x="245" y="366.2">VARCHAR2(10)</text>
<text class="r" x="187" y="369.3">indicador_activo</text><text class="r" x="245" y="369.3">CHAR(1)</text>
<text class="r" x="187" y="372.9">indicador_principal</text><text class="r" x="245" y="372.9">CHAR(1)</text>
<text class="r" x="187" y="376">usuario_creacion</text><text class="r" x="245" y="376">VARCHAR2(30)</text>
<text class="r" x="187" y="379.6">fecha_creacion</text><text class="r" x="245" y="379.6">DATE</text>
</g>

<g id="t22">
<rect class="b p" x="308" y="326" width="81" height="69"/><line class="sp" x1="308" y1="330.2" x2="389" y2="330.2"/>
<text class="h" x="348.5" y="329.1">Modelo_Producto</text>
<text class="r" x="310" y="332.3">id_producto</text><text class="r" x="353" y="332.3">NUMBER(10)</text><text class="r" x="377" y="332.3">NN</text>
<text class="r" x="310" y="335.2">id_modelo_catalogo_producto</text><text class="r" x="353" y="335.2">NUMBER(10)</text><text class="r" x="377" y="335.2">NN</text>
<line class="u" x1="310" y1="336" x2="333" y2="336"/>
<text class="r" x="310" y="338.7">id_usuario_responsable_alta</text><text class="r" x="353" y="338.7">NUMBER(10)</text><text class="r" x="377" y="338.7">NN</text>
<text class="r" x="310" y="341.8">nombre_producto</text><text class="r" x="353" y="341.8">VARCHAR2(100)</text>
<text class="r" x="310" y="344.9">talla_producto</text><text class="r" x="353" y="344.9">VARCHAR2(10)</text>
<text class="r" x="310" y="348">color_producto</text><text class="r" x="353" y="348">VARCHAR2(20)</text>
<text class="r" x="310" y="351.6">precio_coste</text><text class="r" x="353" y="351.6">NUMBER(12,2)</text>
<text class="r" x="310" y="354.7">precio_venta</text><text class="r" x="353" y="354.7">NUMBER(12,2)</text>
<text class="r" x="310" y="357.8">stock_actual</text><text class="r" x="353" y="357.8">NUMBER(8)</text>
<text class="r" x="310" y="360.9">stock_minimo</text><text class="r" x="353" y="360.9">NUMBER(8)</text>
<text class="r" x="310" y="364">indicador_activo</text><text class="r" x="353" y="364">CHAR(1)</text>
<text class="r" x="310" y="367.1">indicador_oferta</text><text class="r" x="353" y="367.1">CHAR(1)</text>
<text class="r" x="310" y="370.2">indicador_temporada</text><text class="r" x="353" y="370.2">CHAR(1)</text>
<text class="r" x="310" y="373.3">codigo_temporada_producto</text><text class="r" x="353" y="373.3">VARCHAR2(10)</text>
<text class="r" x="310" y="376.4">fecha_alta_producto</text><text class="r" x="353" y="376.4">DATE</text>
<text class="r" x="310" y="379.5">fecha_baja_producto</text><text class="r" x="353" y="379.5">DATE</text>
<text class="r" x="310" y="382.6">indicador_descatalogado</text><text class="r" x="353" y="382.6">CHAR(1)</text>
<text class="r" x="310" y="385.7">usuario_creacion</text><text class="r" x="353" y="385.7">VARCHAR2(30)</text>
<text class="r" x="310" y="388.8">fecha_creacion</text><text class="r" x="353" y="388.8">DATE</text>
</g>
</svg>
